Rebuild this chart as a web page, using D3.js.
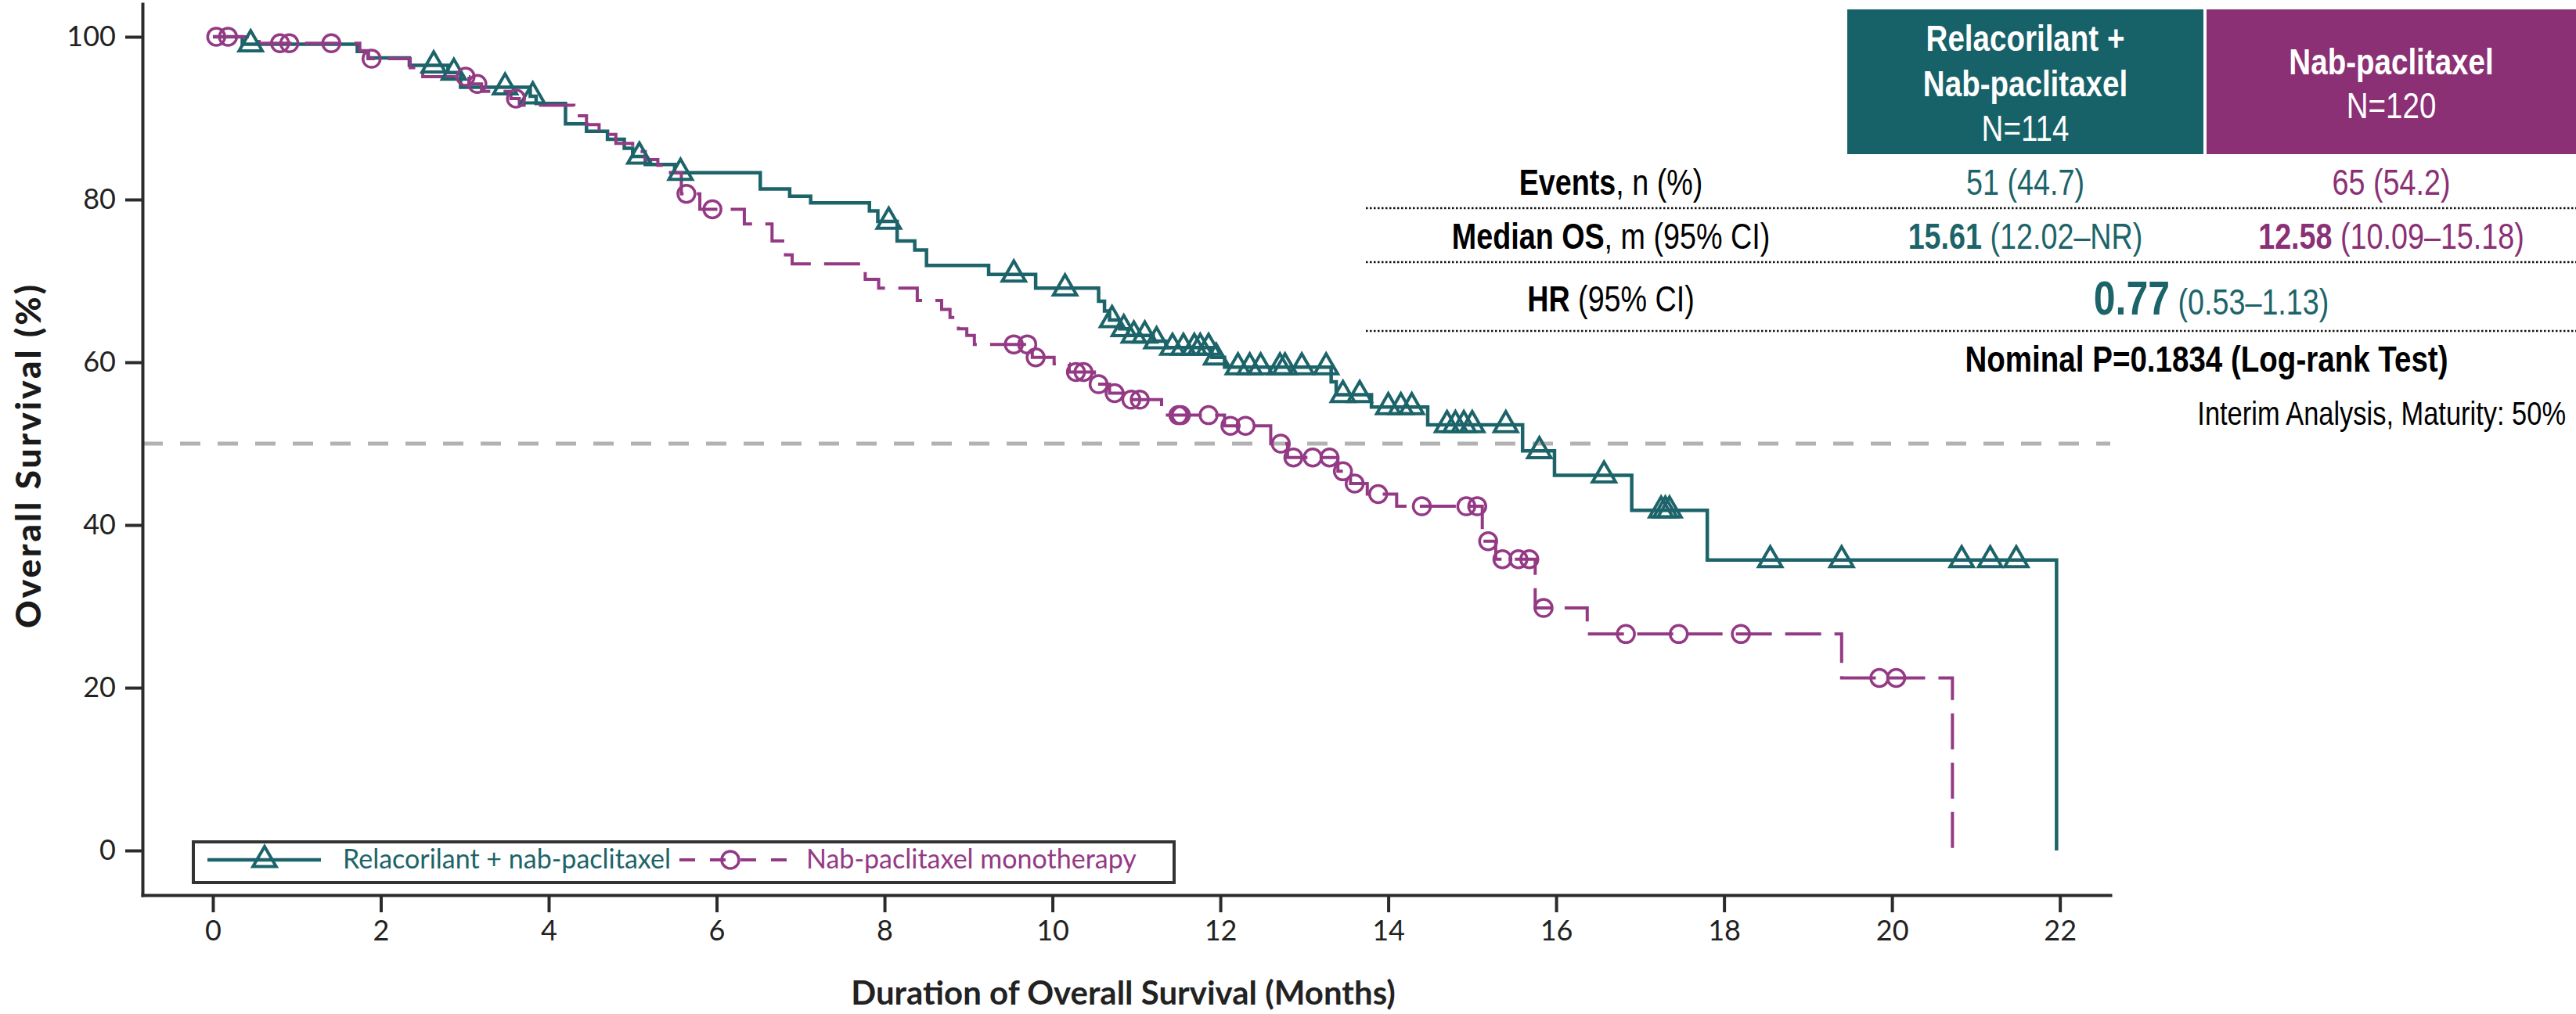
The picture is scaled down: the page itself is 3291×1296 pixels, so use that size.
<!DOCTYPE html>
<html><head><meta charset="utf-8">
<script src="https://cdn.jsdelivr.net/npm/d3@7"></script>
<style>body{margin:0;background:#fff}</style>
</head><body>
<svg id="chart" width="3291" height="1296"></svg>
<script>
// ---------- data ----------
const monthTicks = [0,2,4,6,8,10,12,14,16,18,20,22];
const survivalTicks = [0,20,40,60,80,100];
const armLabels = ["Relacorilant + nab-paclitaxel", "Nab-paclitaxel monotherapy"];

// Relacorilant + nab-paclitaxel: KM step times (months) and survival (%) after each step
const relaStepMonths = [0.35,1.72,1.85,2.34,2.8,2.95,3.78,3.85,4.2,4.45,4.7,4.9,5.0,5.15,5.5,6.52,6.87,7.12,7.82,7.92,8.15,8.36,8.5,9.24,9.8,10.55,10.62,10.68,10.8,10.9,11.2,11.35,11.9,12.05,13.32,13.38,13.8,14.47,15.6,15.98,16.9,17.8];
const relaStepSurv   = [99.1,98.2,97.4,96.5,95.6,93.8,92.7,91.8,89.3,88.4,87.4,86.3,85.3,84.3,83.3,81.3,80.4,79.6,78.6,77.3,74.9,73.8,71.9,70.8,69.1,67.5,66.3,65.2,64.1,63.3,62.6,61.8,60.6,59.4,57.6,56.0,54.5,52.3,49.1,46.1,41.8,35.7];
const relaCensorMonths = [0.45,2.63,2.87,3.48,3.81,5.08,5.57,8.05,9.54,10.15,10.71,10.85,10.97,11.1,11.24,11.43,11.56,11.69,11.76,11.86,11.95,12.21,12.35,12.48,12.71,12.77,12.97,13.26,13.46,13.66,14.0,14.15,14.28,14.7,14.8,14.9,15.0,15.4,15.8,16.57,17.25,17.3,17.35,18.55,19.4,20.83,21.17,21.48];
const relaLastMonth = 21.96;

// Nab-paclitaxel monotherapy
const nabStepMonths = [0.55,1.75,1.85,2.35,2.5,3.05,3.2,3.55,3.65,4.3,4.45,4.6,4.8,5.0,5.15,5.3,5.45,5.58,5.8,6.33,6.66,6.82,6.9,7.77,7.93,8.39,8.68,8.78,8.88,8.98,9.07,9.76,10.02,10.2,10.5,10.68,10.88,11.3,12.05,12.6,12.8,13.4,13.55,13.75,14.1,15.12,15.28,15.75,16.37,19.4];
const nabStepSurv   = [99.2,98.3,97.3,96.2,95.1,94.2,93.3,92.4,91.6,90.3,89.2,88.0,86.9,85.9,84.9,84.2,83.3,80.7,78.8,77.0,74.9,73.2,72.1,70.2,69.1,67.6,66.5,65.5,64.1,63.3,62.2,60.6,59.8,58.8,57.3,56.2,55.4,53.5,52.2,50.0,48.3,46.6,45.1,43.8,42.3,38.0,35.8,29.8,26.6,21.2];
const nabCensorMonths = [0.04,0.18,0.80,0.91,1.41,1.89,3.01,3.15,3.61,5.64,5.95,9.54,9.7,9.8,10.28,10.37,10.55,10.74,10.94,11.04,11.5,11.53,11.86,12.12,12.3,12.72,12.87,13.1,13.3,13.46,13.6,13.88,14.4,14.93,15.06,15.19,15.36,15.55,15.68,15.85,16.83,17.46,18.2,19.85,20.05];
const nabLastMonth = 20.72;

// table
const headerRela = ["Relacorilant +", "Nab-paclitaxel", "N=114"];
const headerNab = ["Nab-paclitaxel", "N=120"];
const rowLabels = [["Events", ", n (%)"], ["Median OS", ", m (95% CI)"], ["HR", " (95% CI)"]];
const eventsVals = ["51 (44.7)", "65 (54.2)"];
const medianVals = [["15.61", " (12.02–NR)"], ["12.58", " (10.09–15.18)"]];
const hrVal = ["0.77", " (0.53–1.13)"];
const pValueText = "Nominal P=0.1834 (Log-rank Test)";
const noteText = "Interim Analysis, Maturity: 50%";

// ---------- drawing ----------
const W = 3291, H = 1296;
const TEAL = "#1c6469", PURP = "#943a85";
const TEAL_BOX = "#166268", PURP_BOX = "#8b3074";
const svg = d3.select("#chart");
svg.append("rect").attr("width", W).attr("height", H).attr("fill", "#fff");

const x = d3.scaleLinear().domain([-0.839, 22.6]).range([182, 2696]);
const y = d3.scaleLinear().domain([-5.48, 104.04]).range([1144, 5]);

// 50% reference line
svg.append("line").attr("x1", x.range()[0]).attr("x2", x.range()[1])
  .attr("y1", y(50)).attr("y2", y(50))
  .attr("stroke", "#b2b2b2").attr("stroke-width", 5).attr("stroke-dasharray", "26,22");

// axes
const axisColor = "#2b2b2b";
const gy = svg.append("g").attr("transform", `translate(${x.range()[0]},0)`)
  .call(d3.axisLeft(y).tickValues(survivalTicks).tickSize(22).tickPadding(12).tickSizeOuter(0));
const gx = svg.append("g").attr("transform", `translate(0,${y.range()[0]})`)
  .call(d3.axisBottom(x).tickValues(monthTicks).tickSize(22).tickPadding(10).tickSizeOuter(0));
[gx, gy].forEach(g => {
  g.select(".domain").attr("stroke", axisColor).attr("stroke-width", 4).attr("stroke-linecap", "square");
  g.selectAll(".tick line").attr("stroke", axisColor).attr("stroke-width", 4);
  g.selectAll(".tick text").attr("font-family", "Lato").attr("font-size", 36).attr("fill", "#222");
});

// axis titles
svg.append("text").attr("x", 1435).attr("y", 1284).attr("text-anchor", "middle")
  .attr("font-family", "Lato").attr("font-weight", 700).attr("font-size", 42).attr("fill", "#222")
  .text("Duration of Overall Survival (Months)");
svg.append("text").attr("transform", "translate(52,582) rotate(-90)").attr("text-anchor", "middle")
  .attr("font-family", "Lato").attr("font-weight", 900).attr("font-size", 44).attr("letter-spacing", 3)
  .attr("fill", "#1a1a1a").text("Overall Survival (%)");

// curves
function stepPoints(times, surv, last) {
  const pts = [[0, 100]];
  times.forEach((t, i) => pts.push([t, surv[i]]));
  pts.push([last, surv[surv.length - 1]]);
  pts.push([last, 0]);
  return pts;
}
function survAt(times, surv, t) {
  let s = 100;
  for (let i = 0; i < times.length; i++) if (times[i] <= t) s = surv[i];
  return s;
}
const line = d3.line().x(d => x(d[0])).y(d => y(d[1])).curve(d3.curveStepAfter);

svg.append("path").datum(stepPoints(relaStepMonths, relaStepSurv, relaLastMonth))
  .attr("d", line).attr("fill", "none").attr("stroke", TEAL).attr("stroke-width", 4.5);
svg.append("path").datum(stepPoints(nabStepMonths, nabStepSurv, nabLastMonth))
  .attr("d", line).attr("fill", "none").attr("stroke", PURP).attr("stroke-width", 4)
  .attr("stroke-dasharray", "46,17");

const tri = d3.symbol(d3.symbolTriangle).size(380);
svg.append("g").selectAll("path").data(relaCensorMonths).join("path")
  .attr("transform", t => `translate(${x(t)},${y(survAt(relaStepMonths, relaStepSurv, t))})`)
  .attr("d", tri).attr("fill", "none").attr("stroke", TEAL).attr("stroke-width", 4);
svg.append("g").selectAll("circle").data(nabCensorMonths).join("circle")
  .attr("cx", t => x(t)).attr("cy", t => y(survAt(nabStepMonths, nabStepSurv, t)))
  .attr("r", 11).attr("fill", "none").attr("stroke", PURP).attr("stroke-width", 3.5);

// legend
const lg = svg.append("g");
lg.append("rect").attr("x", 247).attr("y", 1076).attr("width", 1253).attr("height", 52)
  .attr("fill", "#fff").attr("stroke", "#333").attr("stroke-width", 4);
lg.append("line").attr("x1", 265).attr("x2", 410).attr("y1", 1099).attr("y2", 1099)
  .attr("stroke", TEAL).attr("stroke-width", 4.5);
lg.append("path").attr("transform", "translate(338,1099)").attr("d", tri)
  .attr("fill", "none").attr("stroke", TEAL).attr("stroke-width", 4);
lg.append("text").attr("x", 438).attr("y", 1110).attr("font-family", "Lato").attr("font-size", 34)
  .attr("fill", TEAL).text(armLabels[0]);
lg.append("line").attr("x1", 868).attr("x2", 1016).attr("y1", 1099).attr("y2", 1099)
  .attr("stroke", PURP).attr("stroke-width", 4).attr("stroke-dasharray", "20,19");
lg.append("circle").attr("cx", 933).attr("cy", 1099).attr("r", 11)
  .attr("fill", "none").attr("stroke", PURP).attr("stroke-width", 3.5);
lg.append("text").attr("x", 1030).attr("y", 1110).attr("font-family", "Lato").attr("font-size", 34)
  .attr("fill", PURP).text(armLabels[1]);

// table (Arial-Narrow look: Liberation Sans squeezed horizontally)
const tb = svg.append("g").attr("font-family", "'Liberation Sans',Arial,sans-serif");
function ntext(cx, by, size, fill, anchor = "middle") {
  return tb.append("text").attr("transform", `translate(${cx},${by}) scale(0.82,1)`)
    .attr("text-anchor", anchor).attr("font-size", size).attr("fill", fill);
}
const colRela = 2587.5, colNab = 3055, labelX = 2058;
tb.append("rect").attr("x", 2360).attr("y", 12).attr("width", 455).attr("height", 185).attr("fill", TEAL_BOX);
tb.append("rect").attr("x", 2819).attr("y", 12).attr("width", 472).attr("height", 185).attr("fill", PURP_BOX);
[65, 123, 180].forEach((by, i) => ntext(colRela, by, 47, "#fff")
  .attr("font-weight", i < 2 ? 700 : 400).text(headerRela[i]));
[95, 151].forEach((by, i) => ntext(colNab, by, 47, "#fff")
  .attr("font-weight", i < 1 ? 700 : 400).text(headerNab[i]));

const rowBase = [249, 318, 398];
rowLabels.forEach((lab, i) => {
  const t = ntext(labelX, rowBase[i], 46, "#000");
  t.append("tspan").attr("font-weight", 700).text(lab[0]);
  t.append("tspan").text(lab[1]);
});
ntext(colRela, rowBase[0], 46, TEAL).text(eventsVals[0]);
ntext(colNab, rowBase[0], 46, PURP_BOX).text(eventsVals[1]);
[[colRela, TEAL], [colNab, PURP_BOX]].forEach(([cx, c], i) => {
  const t = ntext(cx, rowBase[1], 46, c);
  t.append("tspan").attr("font-weight", 700).text(medianVals[i][0]);
  t.append("tspan").text(medianVals[i][1]);
});
const hr = ntext(2825, 402, 46, TEAL);
hr.append("tspan").attr("font-size", 61).attr("font-weight", 700).text(hrVal[0]);
hr.append("tspan").attr("font-size", 46).text(hrVal[1]);

[266, 335, 423].forEach(ly => tb.append("line").attr("x1", 1745).attr("x2", W).attr("y1", ly).attr("y2", ly)
  .attr("stroke", "#111").attr("stroke-width", 2.5).attr("stroke-dasharray", "2.5,2.5"));

ntext(2819, 475, 47, "#000").attr("font-weight", 700).text(pValueText);
ntext(3278, 543, 42, "#000", "end").text(noteText);
</script>
</body></html>
